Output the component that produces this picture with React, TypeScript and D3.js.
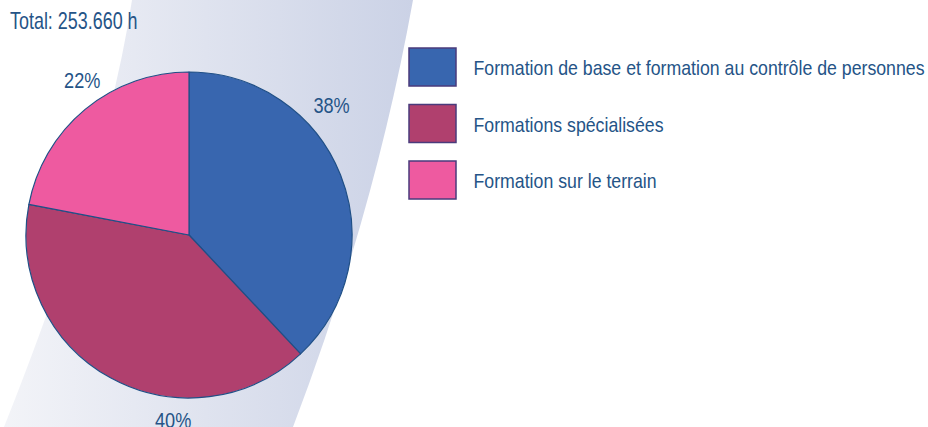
import React from "react";
import * as d3 from "d3";

const categories = [
  "Formation de base et formation au contrôle de personnes",
  "Formations spécialisées",
  "Formation sur le terrain",
];
const shares = [38, 40, 22];
const percentLabels = ["38%", "40%", "22%"];
const totalLabel = "Total: 253.660 h";

const colors = ["#3866af", "#b0406e", "#ee5aa0"];
const labelAngles = [47.6, 184.9, 325.4]; // degrees, clockwise from top
const labelRadii = [193, 186, 188];
const W = 928;
const H = 427;
const FONT = "'Liberation Sans', Arial, sans-serif";
const TEXT = "#255487";
const SX = 0.844;

export default function App() {
  const cx = 189, cy = 235, r = 163;
  const pie = d3.pie<number>().sort(null).value((d) => d)(shares);
  const arc = d3.arc<d3.PieArcDatum<number>>().innerRadius(0).outerRadius(r);
  const band = "M132,0 Q106,171 4,427 L293,427 Q375,211.5 413,0 Z";
  return (
    <svg width={W} height={H} style={{ position: "absolute", left: 0, top: 0 }} fontFamily={FONT}>
      <defs>
        <linearGradient id="bg" gradientUnits="userSpaceOnUse" x1={0} y1={0} x2={413} y2={0}>
          <stop offset="0" stopColor="#f3f4f8" />
          <stop offset="1" stopColor="#cbd2e6" />
        </linearGradient>
      </defs>
      <path d={band} fill="url(#bg)" />
      <text transform={`translate(10,29.3) scale(0.78,1)`} fontSize={23} fill={TEXT}>{totalLabel}</text>
      <g transform={`translate(${cx},${cy})`}>
        {pie.map((p, i) => (
          <path key={i} d={arc(p) || ""} fill={colors[i]} stroke="#1f4f86" strokeWidth={1.2} strokeLinejoin="round" />
        ))}
        {percentLabels.map((t, i) => {
          const a = (labelAngles[i] * Math.PI) / 180;
          const rr = labelRadii[i];
          const x = rr * Math.sin(a);
          const y = -rr * Math.cos(a) + 7.7;
          return (
            <text key={i} transform={`translate(${x},${y}) scale(${SX},1)`} fontSize={21.5} fill={TEXT} textAnchor="middle">{t}</text>
          );
        })}
      </g>
      {categories.map((c, i) => (
        <g key={i} transform={`translate(409,${48 + i * 56.5})`}>
          <rect x={0} y={0} width={47} height={38} fill={colors[i]} stroke="#4a3b7c" strokeWidth={1.5} />
          <text transform={`translate(64.5,27) scale(${SX},1)`} fontSize={21} fill={TEXT}>{c}</text>
        </g>
      ))}
    </svg>
  );
}
